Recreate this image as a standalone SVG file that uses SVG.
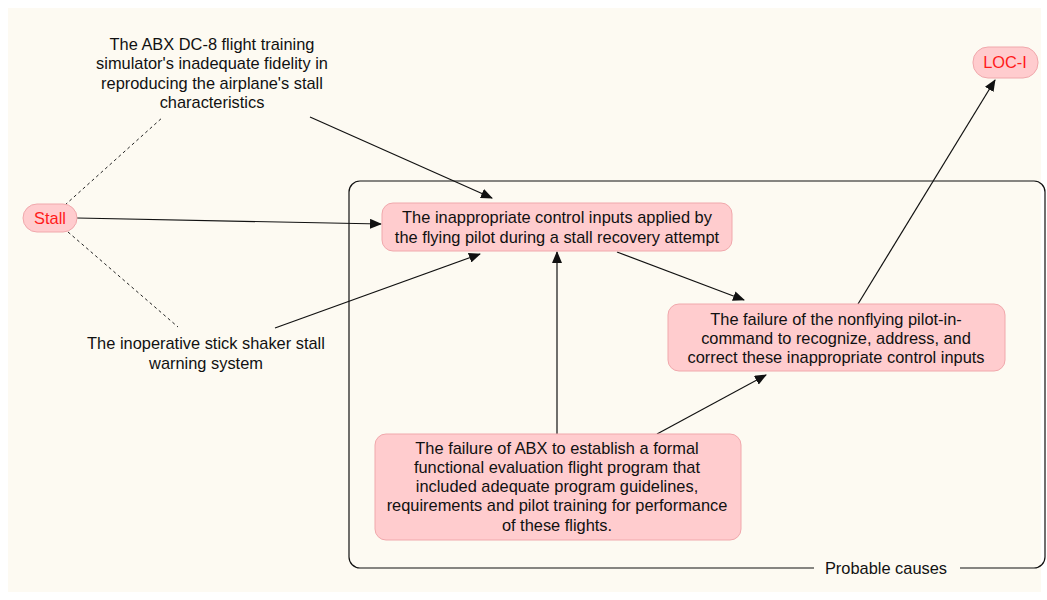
<svg xmlns="http://www.w3.org/2000/svg" width="1047" height="600" viewBox="0 0 1047 600">
<defs>
<style>
text{font-family:"Liberation Sans",Arial,sans-serif;font-size:16.4px;fill:#111;text-anchor:middle;dominant-baseline:central}
.node{fill:#ffccce;stroke:#f0a8ac;stroke-width:1}
.red{fill:#ff1a1a}
.edge{stroke:#111;stroke-width:1.2;fill:none}
.dash{stroke:#222;stroke-width:1;stroke-dasharray:3,3;fill:none}
</style>
<marker id="arr" markerWidth="12" markerHeight="10" refX="11" refY="5" orient="auto" markerUnits="userSpaceOnUse">
<path d="M0,0 L12,5 L0,10 z" fill="#111"/>
</marker>
</defs>
<rect x="0" y="0" width="1047" height="600" fill="#ffffff"/>
<rect x="8" y="8" width="1033" height="584" fill="#fdfaf2"/>
<g id="group-probable">
<rect x="349" y="181" width="696" height="387" rx="11" fill="none" stroke="#111" stroke-width="1.2"/>
<rect x="814" y="558" width="146" height="20" fill="#fdfaf2"/>
<text x="886" y="568">Probable causes</text>
</g>
<g id="connectors">
<line class="dash" x1="65" y1="205" x2="163" y2="117"/>
<line class="dash" x1="68" y1="232" x2="178" y2="327"/>
<line class="edge" x1="77" y1="218" x2="381" y2="224" marker-end="url(#arr)"/>
<line class="edge" x1="310" y1="117" x2="492" y2="198" marker-end="url(#arr)"/>
<line class="edge" x1="275" y1="328" x2="480" y2="254" marker-end="url(#arr)"/>
<line class="edge" x1="617" y1="252" x2="744" y2="300" marker-end="url(#arr)"/>
<line class="edge" x1="557" y1="434" x2="557" y2="252" marker-end="url(#arr)"/>
<line class="edge" x1="657" y1="434" x2="766" y2="375" marker-end="url(#arr)"/>
<line class="edge" x1="858" y1="304" x2="995" y2="80" marker-end="url(#arr)"/>
</g>
<g id="stall">
<rect class="node" x="23" y="204" width="54" height="28" rx="14"/>
<text class="red" x="50" y="218">Stall</text>
</g>
<g id="loci">
<rect class="node" x="973" y="47" width="65" height="31" rx="15"/>
<text class="red" x="1005" y="62">LOC-I</text>
</g>
<g id="simulator">
<text x="212" y="44">The ABX DC-8 flight training</text>
<text x="212" y="63">simulator's inadequate fidelity in</text>
<text x="212" y="83">reproducing the airplane's stall</text>
<text x="212" y="102">characteristics</text>
</g>
<g id="stickshaker">
<text x="206" y="343">The inoperative stick shaker stall</text>
<text x="206" y="363">warning system</text>
</g>
<g id="control-inputs">
<rect class="node" x="382" y="203" width="350" height="48" rx="11"/>
<text x="557" y="217">The inappropriate control inputs applied by</text>
<text x="557" y="237">the flying pilot during a stall recovery attempt</text>
</g>
<g id="nonflying">
<rect class="node" x="668" y="304" width="337" height="67" rx="11"/>
<text x="836" y="319">The failure of the nonflying pilot-in-</text>
<text x="836" y="338">command to recognize, address, and</text>
<text x="836" y="357">correct these inappropriate control inputs</text>
</g>
<g id="abx-program">
<rect class="node" x="375" y="434" width="366" height="106" rx="11"/>
<text x="557" y="448">The failure of ABX to establish a formal</text>
<text x="557" y="467">functional evaluation flight program that</text>
<text x="557" y="486">included adequate program guidelines,</text>
<text x="557" y="505">requirements and pilot training for performance</text>
<text x="557" y="525">of these flights.</text>
</g>
</svg>
